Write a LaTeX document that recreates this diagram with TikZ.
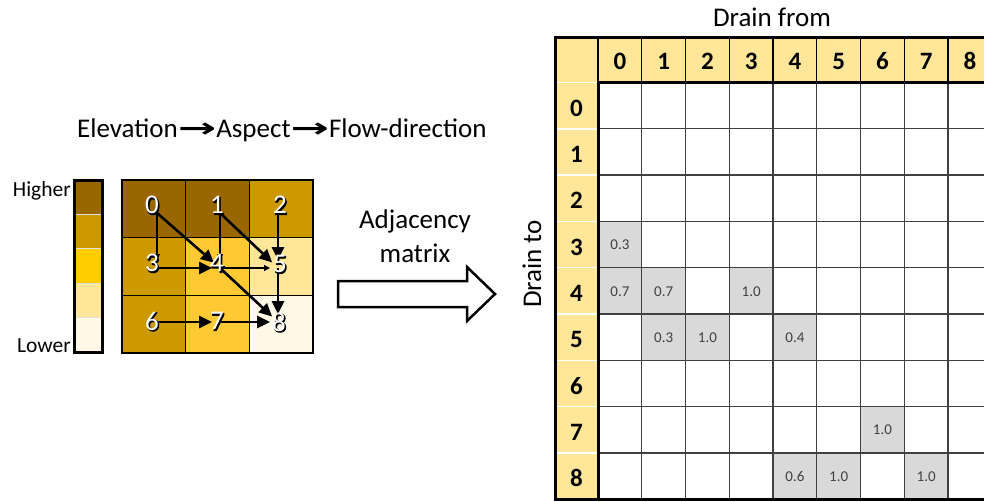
\documentclass[tikz,border=0pt]{standalone}
\usepackage{fontspec}
\setmainfont{Carlito}
\newfontfamily\arrowfont{DejaVu Sans}
\newfontfamily\heavyfont[FakeBold=3]{Carlito}
\usepackage{xcolor}
\usepackage{tikz}
\usetikzlibrary{arrows.meta}
\definecolor{elevA}{HTML}{996600}
\definecolor{elevB}{HTML}{CC9900}
\definecolor{elevC}{HTML}{FFCC00}
\definecolor{elevD}{HTML}{FFE699}
\definecolor{elevE}{HTML}{FFF8E6}
\definecolor{cellmid}{HTML}{FFC933}
\definecolor{hdrfill}{HTML}{FFE699}
\definecolor{hitfill}{HTML}{D9D9D9}
\definecolor{valtext}{HTML}{404040}
\newcommand{\stepto}{{\arrowfont\bfseries\scalebox{1.7}[1]{→}}}

\begin{document}
\begin{tikzpicture}[x=1pt, y=-1pt,
		txt/.style={font=\fontsize{27}{33}\selectfont, inner sep=0pt},
		sidetxt/.style={font=\fontsize{21.5}{26}\selectfont, inner sep=0pt},
		hdrnum/.style={font=\fontsize{25}{30}\selectfont\bfseries, inner sep=0pt},
		valnum/.style={font=\fontsize{15}{18}\selectfont, text=valtext, inner sep=0pt},
		gridnum/.style={font=\fontsize{27}{33}\selectfont, text=white, inner sep=0pt},
		gridshade/.style={font=\fontsize{27}{33}\heavyfont, text=black, inner sep=0pt},
		cellline/.style={draw=black, line width=1.5pt},
		gridline/.style={draw=black!75, line width=1.3pt},
		flow/.style={-{Triangle[length=13pt, width=12pt]}, line width=2.6pt, shorten >=8pt},
		minor/.style={-{Triangle[length=6pt, width=6pt]}, line width=1.2pt, shorten >=8pt}]
	\useasboundingbox (0,0) rectangle (984,501);
	\clip (0,0) rectangle (984,501);

	\node[txt, anchor=base west] (chain) at (77,137) {Elevation\stepto Aspect\stepto Flow-direction};

	\foreach \k/\col in {0/elevA, 1/elevB, 2/elevC, 3/elevD, 4/elevE}
		\fill[\col] (74,{180+34.4*\k}) rectangle +(28.5,34.4);
	\foreach \k in {1,...,4}
		\draw[black!12, line width=1pt] (74,{180+34.4*\k}) -- +(28.5,0);
	\draw[line width=3pt] (74,180) rectangle (102.5,352);
	\node[sidetxt, anchor=base east] (higher) at (71,196) {Higher};
	\node[sidetxt, anchor=base east] (lower) at (71,352) {Lower};

	\foreach \c/\r/\col in {0/0/elevA, 1/0/elevA, 2/0/elevB, 0/1/elevB, 1/1/cellmid, 2/1/elevD, 0/2/elevB, 1/2/cellmid, 2/2/elevE}
		\filldraw[fill=\col, cellline] ({122+63.7*\c},{180+57.7*\r}) rectangle +(63.7,57.7);

	\foreach \k/\x/\y in {0/157/213, 1/220/213, 2/278/213, 3/157/268, 4/220/268, 5/278/268, 6/157/322, 7/220/322, 8/278/322}
		\coordinate (p\k) at (\x,\y);

	\draw[minor] (p0) -- (p3);
	\draw[minor] (p1) -- (p4);
	\draw[minor] (p4) -- (p5);
	\draw[flow] (p0) -- (p4);
	\draw[flow] (p1) -- (p5);
	\draw[flow] (p2) -- (p5);
	\draw[flow] (p3) -- (p4);
	\draw[flow] (p4) -- (p8);
	\draw[flow] (p5) -- (p8);
	\draw[flow] (p6) -- (p7);
	\draw[flow] (p7) -- (p8);

	\foreach \k/\x/\y in {0/152/205, 1/217/205, 2/280/205, 3/152/263, 4/217/263, 5/280/264, 6/152/321, 7/217/321, 8/279/322} {
		\node[gridshade] at (\x+1,\y+1) {\k};
		\node[gridnum] (l\k) at (\x,\y) {\k};
	}

	\draw[line width=2.5pt, fill=white] (338,281) -- (467,281) -- (467,267) -- (495,294)
		-- (467,321) -- (467,307) -- (338,307) -- cycle;
	\node[txt, anchor=base] (adjA) at (415,228) {Adjacency};
	\node[txt, anchor=base] (adjB) at (415,262) {matrix};

	\node[txt, anchor=base] (from) at (772,26) {Drain from};
	\node[txt, rotate=90] (to) at (532,264) {Drain to};

	\fill[hdrfill] (555,37) rectangle (992,82.5);
	\fill[hdrfill] (555,82.5) rectangle (598,499);
	\fill[white] (598,82.5) rectangle (992,499);
	\foreach \c/\r/\v in {0/3/0.3, 0/4/0.7, 1/4/0.7, 3/4/1.0, 1/5/0.3, 2/5/1.0, 4/5/0.4, 6/7/1.0, 4/8/0.6, 5/8/1.0, 7/8/1.0} {
		\fill[hitfill] ({598+43.75*\c},{82.5+46.3*\r}) rectangle +(43.75,46.3);
		\node[valnum] (v\c\r) at ({619.9+43.75*\c},{106+46.3*\r}) {\v};
	}
	\foreach \i in {1,...,9}
		\draw[gridline] ({598+43.75*\i},82.5) -- ({598+43.75*\i},499);
	\foreach \j in {1,...,8}
		\draw[gridline] (598,{82.5+46.3*\j}) -- (992,{82.5+46.3*\j});
	\foreach \i in {0,...,9}
		\draw[black, line width=1.3pt] ({598+43.75*\i},37) -- ({598+43.75*\i},82.5);
	\foreach \j in {0,...,8}
		\draw[white, line width=1.5pt] (555,{82.5+46.3*\j}) -- (596.5,{82.5+46.3*\j});
	\draw[line width=3pt] (992,37) -- (555,37) -- (555,499) -- (992,499);
	\draw[line width=3pt] (598,499) -- (598,82.5) -- (992,82.5);
	\foreach \i in {0,...,8} {
		\node[hdrnum] (col\i) at ({619.9+43.75*\i},61) {\i};
		\node[hdrnum] (row\i) at (576.5,{108+46.3*\i}) {\i};
	}
\end{tikzpicture}
\end{document}
